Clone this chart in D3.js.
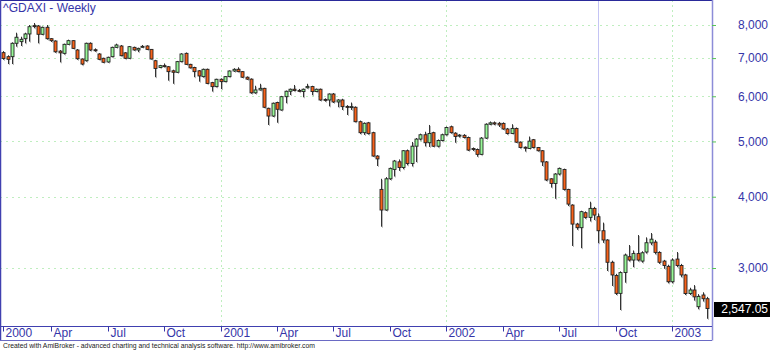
<!DOCTYPE html>
<html>
<head>
<meta charset="utf-8">
<script src="https://cdn.jsdelivr.net/npm/d3@7"></script>
<style>
  html, body { margin: 0; padding: 0; background: #fff; }
  svg { display: block; font-family: "Liberation Sans", Arial, sans-serif; }
</style>
</head>
<body>
<div id="chart"></div>
<script>
(function () {
  'use strict';

  // ── Data: weekly bars of ^GDAXI, Jan 21 2000 .. Feb 28 2003 ───────────────
  const firstWeek = new Date(2000, 0, 21);
  const lastWeek = new Date(2003, 1, 28);

  const opens = [
    7155, 7040, 7040, 7431, 7480, 7570, 7716, 7980, 7968, 7705, 7926, 7570, 7500, 7200, 7135, 7400,
    7510, 7233, 6974, 6926, 7431, 7240, 7117, 6994, 6891, 7040, 7310, 7350, 7150, 6994, 7310, 7233,
    7330, 7350, 7250, 6926, 6740, 6790, 6760, 6650, 6610, 6900, 7135, 6825, 6740, 6650, 6495, 6690,
    6340, 6238, 6426, 6365, 6495, 6645, 6690, 6627, 6480, 6430, 6084, 6155, 6195, 5716, 5540, 5850,
    5677, 5990, 6123, 6173, 6145, 6115, 6210, 6240, 6115, 6173, 5925, 5911, 6055, 5864, 5911, 5760,
    5750, 5740, 5415, 5180, 5390, 5180, 4714, 4120, 3791, 4300, 4466, 4605, 4500, 4816, 4575, 4905,
    5048, 5137, 4974, 5180, 4905, 5020, 5137, 5305, 5170, 5110, 5125, 5080, 4860, 4840, 4746, 5068,
    5360, 5390, 5380, 5378, 5258, 5163, 5270, 4986, 4885, 4860, 5035, 4880, 4816, 4604, 4300, 4220,
    4384, 4466, 4120, 3868, 3582, 3530, 3750, 3680, 3816, 3690, 3487, 3359, 3070, 2910, 2708, 2945,
    3140, 3098, 3180, 3085, 3200, 3320, 3330, 3195, 3085, 3020, 2838, 3110, 3030, 2917, 2706, 2745,
    2566, 2690, 2650
  ];
  const highs = [
    7200, 7080, 7460, 7755, 7630, 7755, 8000, 8065, 8000, 7950, 8000, 7590, 7520, 7230, 7420, 7540,
    7520, 7260, 6990, 7450, 7460, 7280, 7140, 7010, 7040, 7330, 7420, 7380, 7170, 7350, 7330, 7300,
    7380, 7370, 7260, 6950, 6810, 6850, 6780, 6680, 6920, 7140, 7160, 6840, 6760, 6670, 6710, 6710,
    6360, 6440, 6450, 6510, 6660, 6720, 6745, 6640, 6500, 6450, 6260, 6310, 6210, 5730, 5850, 5870,
    6010, 6140, 6190, 6280, 6180, 6190, 6310, 6260, 6190, 6190, 5950, 6070, 6080, 5930, 5940, 5790,
    5850, 5760, 5440, 5400, 5410, 5200, 4730, 4300, 4330, 4500, 4640, 4650, 4830, 4840, 4990, 5070,
    5160, 5200, 5344, 5200, 5040, 5160, 5310, 5330, 5190, 5150, 5150, 5100, 4880, 4860, 5090, 5380,
    5420, 5420, 5410, 5400, 5280, 5360, 5290, 5000, 4900, 5100, 5050, 4890, 4830, 4620, 4310, 4400,
    4500, 4480, 4130, 3880, 3600, 3780, 3770, 3920, 3840, 3740, 3603, 3370, 3090, 2930, 2960, 3180,
    3292, 3220, 3427, 3210, 3395, 3455, 3360, 3210, 3100, 3040, 3120, 3200, 3050, 2930, 2770, 2800,
    2700, 2720, 2670
  ];
  const lows = [
    6950, 6833, 6833, 7330, 7350, 7430, 7480, 7895, 7430, 7680, 7540, 7470, 7150, 6880, 7100, 7380,
    7260, 6950, 6800, 6900, 7200, 7180, 6940, 6860, 6870, 7020, 7290, 7050, 6970, 6980, 7210, 7170,
    7300, 7230, 6960, 6480, 6720, 6740, 6390, 6310, 6590, 6880, 6810, 6710, 6480, 6365, 6470, 6300,
    6115, 6220, 6176, 6350, 6480, 6620, 6610, 6460, 6410, 6060, 6060, 6140, 5720, 5344, 5520, 5392,
    5660, 5834, 6030, 6120, 6100, 5975, 6190, 6025, 6100, 5890, 5870, 5760, 5840, 5740, 5677, 5564,
    5677, 5400, 5150, 5133, 5140, 4700, 4528, 3544, 3780, 4280, 4340, 4440, 4470, 4540, 4520, 4600,
    5020, 4900, 4890, 4890, 4880, 5000, 5120, 5160, 4974, 5080, 5060, 4810, 4810, 4700, 4730, 5050,
    5340, 5340, 5300, 5240, 5140, 5150, 4970, 4860, 4800, 4850, 4860, 4800, 4528, 4260, 4150, 3967,
    4360, 4100, 3852, 3279, 3500, 3250, 3660, 3620, 3641, 3316, 3320, 2964, 2790, 2690, 2532, 2827,
    3080, 3010, 3080, 3065, 3180, 3290, 3170, 3050, 2990, 2820, 2820, 3010, 2890, 2690, 2690, 2630,
    2540, 2620, 2444
  ];
  const closes = [
    6990, 6965, 7431, 7614, 7550, 7716, 7945, 7970, 7705, 7926, 7570, 7510, 7180, 7150, 7400, 7510,
    7280, 6982, 6833, 7431, 7233, 7230, 6965, 6883, 7022, 7310, 7380, 7068, 6994, 7330, 7233, 7280,
    7340, 7250, 6974, 6712, 6790, 6780, 6627, 6610, 6900, 7117, 6825, 6730, 6627, 6513, 6690, 6320,
    6238, 6426, 6365, 6495, 6645, 6690, 6627, 6480, 6430, 6084, 6155, 6195, 5740, 5540, 5834, 5693,
    5990, 6123, 6173, 6140, 6140, 6173, 6240, 6115, 6173, 5911, 5915, 6055, 5864, 5911, 5754, 5750,
    5755, 5415, 5180, 5380, 5160, 4714, 4660, 3791, 4300, 4485, 4620, 4500, 4816, 4575, 4905, 5048,
    5137, 4974, 5163, 4905, 5020, 5137, 5290, 5180, 5100, 5130, 5080, 4829, 4840, 4746, 5068, 5360,
    5390, 5365, 5344, 5258, 5163, 5270, 4986, 4880, 4875, 5006, 4880, 4816, 4604, 4280, 4220, 4384,
    4485, 4120, 3883, 3582, 3530, 3766, 3680, 3816, 3715, 3487, 3359, 3070, 2917, 2708, 2945, 3161,
    3098, 3180, 3098, 3190, 3322, 3370, 3195, 3070, 3030, 2838, 3098, 3030, 2917, 2706, 2745, 2670,
    2675, 2650, 2547.05
  ];

  const priceTicks = [3000, 4000, 5000, 6000, 7000, 8000];
  const quarterMonths = [0, 3, 6, 9];
  const monthNames = ['Jan', 'Feb', 'Mar', 'Apr', 'May', 'Jun', 'Jul', 'Aug', 'Sep', 'Oct', 'Nov', 'Dec'];
  const title = '^GDAXI - Weekly';
  const footer = 'Created with AmiBroker - advanced charting and technical analysis software. http://www.amibroker.com';
  const cursorBar = 137;

  // weekly Fridays, one per bar
  const dates = d3.timeFriday.range(firstWeek, d3.timeDay.offset(lastWeek, 1));
  const bars = dates.map((d, i) => ({ i, date: d, o: opens[i], h: highs[i], l: lows[i], c: closes[i] }));

  // ── Layout ───────────────────────────────────────────────────────────────
  const W = 770, H = 350;
  const plotL = 0.5, plotR = 712, plotT = 0.5, plotB = 326.5, axisB = 340.5;
  const blue = '#3535a8';
  const gridColor = '#7fdc7f';

  const svg = d3.select('#chart').append('svg')
    .attr('width', W)
    .attr('height', H);

  const x = d3.scaleLinear().domain([0, bars.length - 1]).range([3.3, 707.1]);
  const y = d3.scaleLog().domain([3000, 8000]).range([268, 25]);

  svg.append('defs').append('clipPath').attr('id', 'plotclip')
    .append('rect').attr('x', plotL).attr('y', plotT)
    .attr('width', plotR - plotL).attr('height', plotB - plotT);

  // Horizontal grid
  svg.append('g')
    .selectAll('line')
    .data(priceTicks)
    .join('line')
    .attr('x1', plotL).attr('x2', plotR)
    .attr('y1', d => Math.round(y(d)) + 0.5).attr('y2', d => Math.round(y(d)) + 0.5)
    .attr('stroke', gridColor).attr('stroke-width', 1).attr('stroke-dasharray', '1,5');

  // Vertical grid at year starts
  const yearBars = bars.filter(b => b.i > 0 && b.date.getFullYear() !== bars[b.i - 1].date.getFullYear());
  svg.append('g')
    .selectAll('line')
    .data(yearBars)
    .join('line')
    .attr('x1', b => Math.round(x(b.i)) + 0.5).attr('x2', b => Math.round(x(b.i)) + 0.5)
    .attr('y1', plotT).attr('y2', plotB)
    .attr('stroke', gridColor).attr('stroke-width', 1).attr('stroke-dasharray', '1,4');

  // Cursor line
  svg.append('line')
    .attr('x1', Math.round(x(cursorBar)) + 0.5).attr('x2', Math.round(x(cursorBar)) + 0.5)
    .attr('y1', plotT).attr('y2', plotB)
    .attr('stroke', '#c4c4f4').attr('stroke-width', 1);

  // Candles
  const g = svg.append('g').attr('clip-path', 'url(#plotclip)');
  const candle = g.selectAll('.candle')
    .data(bars)
    .join('g')
    .attr('class', 'candle');

  // soft gray shadow next to each wick, then the wick itself
  candle.append('line')
    .attr('x1', b => Math.round(x(b.i)) + 1.5).attr('x2', b => Math.round(x(b.i)) + 1.5)
    .attr('y1', b => y(b.h) + 1).attr('y2', b => y(b.l) + 1)
    .attr('stroke', '#b8b8b8').attr('stroke-width', 1);
  candle.append('line')
    .attr('x1', b => Math.round(x(b.i)) + 0.5).attr('x2', b => Math.round(x(b.i)) + 0.5)
    .attr('y1', b => y(b.h)).attr('y2', b => y(b.l))
    .attr('stroke', '#333').attr('stroke-width', 1);

  candle.append('rect')
    .attr('x', b => Math.round(x(b.i)) - 1)
    .attr('y', b => Math.min(y(b.o), y(b.c)))
    .attr('width', 3)
    .attr('height', b => Math.max(1, Math.abs(y(b.o) - y(b.c))))
    .attr('fill', b => b.c >= b.o ? '#98f898' : '#f8621a')
    .attr('stroke', '#222')
    .attr('stroke-width', 0.9);

  // Frame
  const frame = svg.append('g').attr('fill', 'none');
  frame.append('line').attr('x1', 0).attr('x2', plotR).attr('y1', plotT).attr('y2', plotT)
    .attr('stroke', '#2a2a9a').attr('stroke-width', 1);
  frame.append('line').attr('x1', plotL).attr('x2', plotL).attr('y1', 0).attr('y2', axisB)
    .attr('stroke', '#4040b0').attr('stroke-width', 1.5);
  frame.append('line').attr('x1', plotR + 0.5).attr('x2', plotR + 0.5).attr('y1', 0).attr('y2', axisB)
    .attr('stroke', '#8c8cd8').attr('stroke-width', 1.5);
  frame.append('line').attr('x1', 0).attr('x2', plotR).attr('y1', plotB).attr('y2', plotB)
    .attr('stroke', '#4040b0').attr('stroke-width', 1);
  frame.append('line').attr('x1', 0).attr('x2', plotR).attr('y1', axisB).attr('y2', axisB)
    .attr('stroke', '#6a6ac4').attr('stroke-width', 1);

  // X axis (quarter labels)
  const labelBars = bars.filter(b => b.i === 0 ||
    (b.date.getMonth() !== bars[b.i - 1].date.getMonth() && quarterMonths.includes(b.date.getMonth())));
  const labelOf = new Map(labelBars.map(b => [b.i,
    b.date.getMonth() === 0 ? String(b.date.getFullYear()) : monthNames[b.date.getMonth()]]));

  const xAxis = svg.append('g')
    .attr('transform', `translate(0,${plotB})`)
    .call(d3.axisBottom(x)
      .tickValues(labelBars.map(b => b.i))
      .tickSize(5)
      .tickSizeOuter(0)
      .tickFormat(i => labelOf.get(i)));
  xAxis.select('.domain').remove();
  xAxis.selectAll('.tick')
    .attr('transform', i => `translate(${Math.round(x(i)) + 0.5},0)`);
  xAxis.selectAll('.tick line').attr('stroke', blue);
  xAxis.selectAll('.tick text')
    .attr('text-anchor', 'start')
    .attr('x', 2)
    .attr('y', 2)
    .attr('dy', '0.71em')
    .attr('fill', blue)
    .style('font-size', '12px')
    .style('font-family', '"Liberation Sans", Arial, sans-serif');

  // Y axis (right)
  const yAxis = svg.append('g')
    .attr('transform', `translate(${plotR},0)`)
    .call(d3.axisRight(y)
      .tickValues(priceTicks)
      .tickSize(4)
      .tickFormat(d3.format(',')));
  yAxis.select('.domain').remove();
  yAxis.selectAll('.tick line').attr('stroke', '#55c455');
  yAxis.selectAll('.tick text')
    .attr('text-anchor', 'end')
    .attr('x', 768 - plotR)
    .attr('fill', blue)
    .style('font-size', '12px')
    .style('font-family', '"Liberation Sans", Arial, sans-serif');

  // Last value marker
  const last = bars[bars.length - 1];
  const ly = y(last.c);
  svg.append('rect')
    .attr('x', plotR + 2).attr('y', Math.round(ly) - 7)
    .attr('width', W - plotR - 2).attr('height', 15)
    .attr('fill', '#000');
  svg.append('text')
    .attr('x', 768).attr('y', ly)
    .attr('dy', '0.36em')
    .attr('text-anchor', 'end')
    .attr('fill', '#fff')
    .style('font-size', '12px')
    .text(d3.format(',.2f')(last.c));

  // Title
  svg.append('text')
    .attr('x', 3).attr('y', 12)
    .attr('fill', blue)
    .style('font-size', '12px')
    .text(title);

  // Footer
  svg.append('text')
    .attr('x', 3).attr('y', 348)
    .attr('fill', '#222')
    .attr('textLength', 312)
    .attr('lengthAdjust', 'spacingAndGlyphs')
    .style('font-size', '7px')
    .text(footer);
})();
</script>
</body>
</html>
